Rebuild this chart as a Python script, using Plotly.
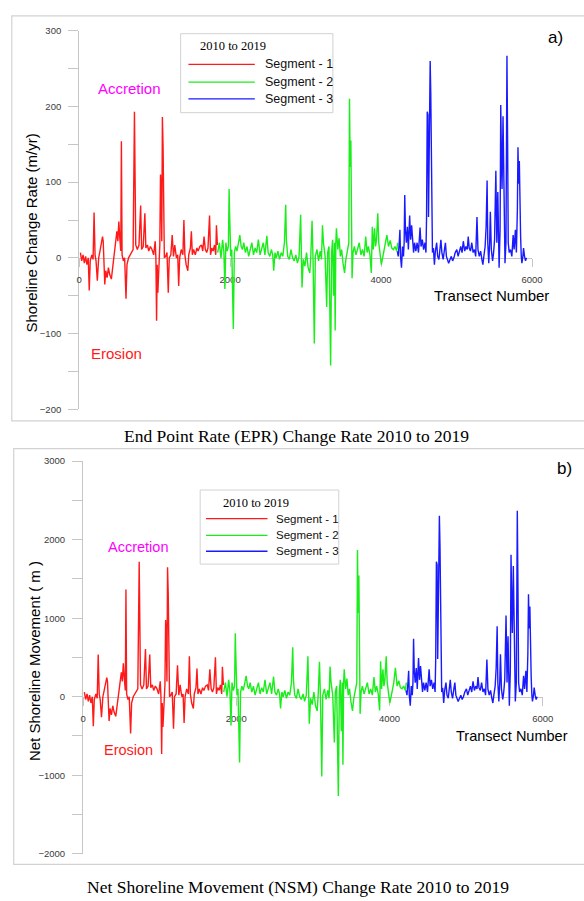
import plotly.graph_objects as go

# ---------------- DATA ----------------
SEG1_T = [17, 34, 52, 69, 86, 103, 121, 134, 147, 168, 185, 198, 211, 224, 241, 259, 276, 293, 310, 319,
          332, 340, 353, 371, 388, 405, 427, 448, 461, 483, 500, 513, 526, 539, 552, 560, 569, 586, 603, 621,
          634, 655, 677, 698, 715, 733, 741, 750, 771, 793, 815, 828, 849, 871, 884, 905, 922, 944, 965, 987,
          1008, 1017, 1026, 1034, 1043, 1056, 1069, 1078, 1086, 1095, 1103, 1112, 1121, 1129, 1146, 1164, 1181, 1194, 1215, 1233,
          1250, 1267, 1289, 1306, 1319, 1332, 1353, 1375, 1388, 1401, 1418, 1440, 1452, 1474, 1487, 1500, 1517, 1539, 1560, 1577,
          1599, 1621, 1638, 1655, 1672, 1690, 1707, 1728, 1741, 1758, 1776, 1793, 1810, 1819, 1832]
EPR_SEG1 = [7, -4, 4, -7, 2, -9, 0, -43, -4, 4, -2, 60, 4, -4, -30, 0, 9, 17, 28, 22,
            -4, -35, -17, -26, -13, -22, -28, -11, 4, 17, 35, 22, 48, 26, 9, 154, 4, -4, 0, -54,
            -9, 0, 4, 7, 11, 193, 135, 17, 11, 17, 69, 11, 15, 59, 13, 17, 9, 15, 11, 4,
            22, 0, -83, -9, -46, 4, 17, 110, 93, 22, 186, 148, 78, 0, 2, 7, -46, 0, 4, 30,
            2, 17, 0, 4, -37, 0, 11, 4, 50, 4, -9, -17, 4, 13, 35, 4, 11, 4, 13, 9,
            15, 17, 9, 28, 11, 7, 13, 56, 4, 13, 9, 17, 4, 43, 17]
NSM_SEG1 = [60, -35, 35, -60, 20, -80, 0, -377, -35, 35, -20, 536, 35, -35, -260, 0, 80, 150, 243, 195,
            -35, -310, -150, -230, -115, -195, -250, -100, 35, 150, 310, 195, 425, 230, 80, 1366, 35, -35, 0, -469,
            -80, 0, 35, 60, 100, 1718, 1190, 150, 100, 150, 608, 100, 135, 536, 115, 150, 80, 135, 100, 35,
            195, 0, -729, -80, -385, 35, 150, 976, 825, 195, 1647, 1310, 690, 0, 20, 60, -406, 0, 35, 400,
            20, 150, 0, 35, -335, 0, 100, 35, 515, 35, -80, -150, 35, 115, 360, 35, 100, 35, 115, 80,
            135, 150, 80, 348, 100, 60, 115, 503, 35, 115, 80, 150, 35, 381, 150]

SEG2_T = [1836, 1858, 1879, 1901, 1918, 1931, 1944, 1961, 1978, 1987, 1992, 2009, 2022, 2043, 2056, 2073, 2091, 2112, 2129, 2147,
          2164, 2181, 2203, 2224, 2246, 2267, 2289, 2310, 2332, 2353, 2375, 2397, 2418, 2440, 2461, 2487, 2504, 2526, 2547, 2565,
          2578, 2595, 2612, 2634, 2655, 2677, 2698, 2720, 2737, 2746, 2763, 2785, 2806, 2828, 2849, 2871, 2892, 2914, 2935, 2944,
          2953, 2970, 2991, 3013, 3034, 3056, 3069, 3086, 3099, 3116, 3129, 3151, 3172, 3194, 3211, 3224, 3237, 3259, 3280, 3293,
          3310, 3332, 3345, 3358, 3371, 3384, 3392, 3401, 3409, 3427, 3444, 3461, 3478, 3496, 3517, 3534, 3552, 3573, 3582, 3591,
          3600, 3608, 3616, 3629, 3646, 3668, 3690, 3711, 3733, 3754, 3776, 3797, 3815, 3832, 3853, 3871, 3884, 3897, 3914, 3927,
          3940, 3957, 3970, 3987, 4004, 4021, 4039, 4056, 4077, 4099, 4121, 4142, 4164, 4185, 4207, 4220]
EPR_SEG2 = [7, 20, 0, 24, 7, -41, 20, 9, 15, 91, 65, 2, 11, -94, 7, 15, 9, 20, 30, 15,
            11, 20, 7, 15, 2, 11, 20, 4, 13, 7, 24, 4, 11, 20, 4, 29, 7, 2, 11, 4,
            -17, 7, 0, 9, -2, 7, 2, 20, 70, 24, 2, -2, 11, 0, -4, 4, -7, 2, 57, 7,
            -39, -2, -11, 7, -13, -20, 2, 49, -2, -113, 2, 11, -4, 9, -2, 43, 20, 2, -65, 7,
            15, -142, 7, 24, -50, 20, -96, 20, 39, 11, 26, 2, 11, -7, -20, -2, 7, 20, 210, 120,
            155, 7, -27, 7, 15, 4, 13, 20, 4, 11, 2, 28, 7, 15, 4, -20, 41, 11, 39, 15,
            24, 59, 20, 7, -9, 0, 11, 20, 30, 15, 23, 13, 11, 15, 9, 20]
NSM_SEG2 = [60, 180, 0, 215, 60, -365, 180, 80, 135, 809, 587, 20, 100, -838, 60, 135, 80, 180, 265, 135,
            100, 180, 60, 135, 20, 100, 180, 35, 115, 60, 215, 35, 100, 180, 35, 255, 60, 20, 100, 35,
            -150, 60, 0, 80, -20, 60, 20, 180, 629, 215, 20, -20, 100, 0, -35, 35, -60, 20, 515, 60,
            -344, -20, -100, 60, -115, -180, 20, 444, -20, -1014, 20, 100, -35, 80, -20, 385, 180, 20, -582, 60,
            135, -1265, 60, 215, -440, 180, -867, 180, 348, 100, 230, 20, 100, -60, -180, -20, 60, 180, 1869, 1065,
            1542, 60, -218, 60, 135, 35, 115, 180, 35, 100, 20, 250, 60, 135, 35, -176, 452, 100, 350, 135,
            215, 515, 180, 60, -80, 0, 100, 180, 369, 135, 205, 115, 100, 135, 80, 180]

SEG3_T = [4215, 4228, 4241, 4250, 4258, 4271, 4284, 4297, 4306, 4314, 4323, 4336, 4349, 4362, 4379, 4392, 4405, 4418, 4431, 4444,
          4461, 4478, 4496, 4517, 4530, 4547, 4564, 4582, 4595, 4603, 4612, 4621, 4629, 4642, 4651, 4659, 4668, 4681, 4694, 4707,
          4720, 4737, 4750, 4767, 4780, 4793, 4806, 4823, 4840, 4853, 4866, 4883, 4896, 4914, 4931, 4948, 4965, 4983, 5004, 5021,
          5039, 5056, 5073, 5090, 5108, 5125, 5142, 5155, 5168, 5185, 5202, 5220, 5237, 5254, 5271, 5284, 5301, 5319, 5336, 5349,
          5362, 5379, 5392, 5405, 5414, 5427, 5439, 5448, 5461, 5478, 5491, 5504, 5521, 5534, 5547, 5556, 5564, 5577, 5586, 5595,
          5603, 5616, 5625, 5633, 5642, 5655, 5668, 5677, 5685, 5698, 5715, 5733, 5750, 5763, 5780, 5793, 5806, 5814, 5823, 5832,
          5840, 5849, 5858, 5866, 5879, 5888, 5901, 5914, 5927]
EPR_SEG3 = [9, 2, 20, 37, 2, -13, 15, 2, 20, 83, 37, 20, 41, 11, 56, 24, 43, 20, 7, 20,
            9, 20, 7, 40, 15, 24, 11, 20, 7, 54, 193, 189, 54, 150, 260, 215, 63, 7, 13, -9,
            9, 20, 2, -2, 11, 24, 7, -2, 11, 20, 2, -4, -7, -2, 2, -4, 0, 7, 11, 2,
            9, 15, 7, 22, 9, 15, 11, 28, 13, 9, 20, 7, 11, 2, 54, 11, 2, 9, -2, -9,
            2, 15, 41, 102, 20, -7, 20, 61, 11, -4, 7, 24, 115, 20, 87, 11, -13, 37, 202, 133,
            91, 187, 89, 2, -7, 20, 267, 150, 20, 7, 11, 2, 30, 11, 37, 7, 63, 146, 98, 128,
            63, 28, 2, -7, 2, 13, 2, -4, 0]
NSM_SEG3 = [80, 20, 180, 330, 20, -115, 135, 20, 180, 737, 330, 180, 365, 100, 494, 215, 390, 180, 60, 180,
            80, 180, 60, 348, 135, 215, 100, 180, 60, 480, 1718, 1680, 480, 1330, 2305, 1910, 560, 60, 115, -80,
            80, 180, 20, -20, 100, 215, 60, -20, 100, 180, 20, -35, -60, -20, 20, -35, 0, 60, 100, 20,
            80, 135, 60, 195, 80, 135, 100, 250, 115, 80, 180, 60, 100, 20, 473, 100, 20, 80, -20, -80,
            20, 135, 365, 897, 180, -60, 180, 540, 100, -35, 60, 215, 1035, 180, 770, 100, -115, 330, 1807, 1180,
            810, 1664, 790, 20, -60, 180, 2368, 1330, 180, 60, 100, 20, 265, 100, 330, 60, 560, 1303, 870, 1148,
            560, 250, 20, -60, 20, 115, 20, -35, 0]

SEGMENT_NAMES = ["Segment - 1", "Segment - 2", "Segment - 3"]
SEGMENT_COLORS = ["#ff1a1a", "#1aee1a", "#1a1aff"]
X_TICKS = [0, 2000, 4000, 6000]
LEGEND_TITLE = "2010 to 2019"

# ---------------- FIGURE ----------------
W, H = 584, 901
def px(x):
    return x / W
def py(y):
    return 1 - y / H

SANS = "Liberation Sans, Arial, sans-serif"
SERIF = "Liberation Serif, Times New Roman, serif"
AXC = "#c6c6c6"
TXC = "#3a3a3a"

fig = go.Figure()
segs_t = [SEG1_T, SEG2_T, SEG3_T]
segs_epr = [EPR_SEG1, EPR_SEG2, EPR_SEG3]
segs_nsm = [NSM_SEG1, NSM_SEG2, NSM_SEG3]
for i in range(3):
    fig.add_trace(go.Scatter(x=segs_t[i], y=segs_epr[i], mode="lines", name=SEGMENT_NAMES[i],
                             line=dict(color=SEGMENT_COLORS[i], width=1.4), showlegend=False,
                             xaxis="x", yaxis="y", hoverinfo="skip"))
for i in range(3):
    fig.add_trace(go.Scatter(x=segs_t[i], y=segs_nsm[i], mode="lines", name=SEGMENT_NAMES[i],
                             line=dict(color=SEGMENT_COLORS[i], width=1.4), showlegend=False,
                             xaxis="x2", yaxis="y2", hoverinfo="skip"))

def xaxis_cfg(x0, x1, zero_y):
    return dict(domain=[px(x0), px(x1)], range=[0, 6000], anchor="free", position=py(zero_y),
                showline=True, linecolor=AXC, linewidth=1, ticks="outside", ticklen=8, tickcolor=AXC,
                tickvals=X_TICKS, tickfont=dict(family=SANS, size=9.5, color=TXC),
                showgrid=False, zeroline=False, layer="below traces", ticklabelstandoff=5)

def yaxis_cfg(ytop, ybot, rng, dtick, xa):
    return dict(domain=[py(ybot), py(ytop)], range=rng, anchor=xa,
                showline=True, linecolor=AXC, linewidth=1, ticks="outside", ticklen=10, tickcolor=AXC,
                dtick=dtick, tick0=0, tickfont=dict(family=SANS, size=9.5, color=TXC),
                minor=dict(ticks="outside", ticklen=10, tickcolor=AXC, dtick=dtick / 2, showgrid=False),
                showgrid=False, zeroline=False, layer="below traces", ticklabelstandoff=5)

fig.update_layout(
    width=W, height=H, margin=dict(l=0, r=0, t=0, b=0),
    paper_bgcolor="white", plot_bgcolor="rgba(0,0,0,0)", showlegend=False,
    xaxis=xaxis_cfg(78, 542, 255),
    yaxis=yaxis_cfg(25, 408.3, [-200, 300], 100, "x"),
    xaxis2=xaxis_cfg(82, 553, 699.3),
    yaxis2=yaxis_cfg(460.7, 858.3, [-2000, 3000], 1000, "x2"),
)

shapes = []
annots = []
BOX = "#d2d2d2"
# panel frames
shapes.append(dict(type="rect", xref="paper", yref="paper", x0=px(9), x1=px(600), y0=py(420), y1=py(10),
                   line=dict(color=BOX, width=1.2), fillcolor="rgba(0,0,0,0)"))
shapes.append(dict(type="rect", xref="paper", yref="paper", x0=px(11), x1=px(600), y0=py(869), y1=py(448),
                   line=dict(color=BOX, width=1.2), fillcolor="rgba(0,0,0,0)"))

def text(x, y, s, size, color="black", family=SANS, xanchor="center", angle=0):
    annots.append(dict(xref="paper", yref="paper", x=px(x), y=py(y), text=s, showarrow=False,
                       xanchor=xanchor, yanchor="middle", textangle=angle,
                       font=dict(family=family, size=size, color=color)))

def legend(x0, y0, x1, y1, title_x, title_y, lx0, lx1, tx, ys, fs):
    shapes.append(dict(type="rect", xref="paper", yref="paper", x0=px(x0), x1=px(x1), y0=py(y1), y1=py(y0),
                       line=dict(color=BOX, width=1), fillcolor="white"))
    text(title_x, title_y, LEGEND_TITLE, 12.5, family=SERIF, xanchor="left")
    for i in range(3):
        shapes.append(dict(type="line", xref="paper", yref="paper", x0=px(lx0), x1=px(lx1),
                           y0=py(ys[i]), y1=py(ys[i]), line=dict(color=SEGMENT_COLORS[i], width=1.3)))
        text(tx, ys[i], SEGMENT_NAMES[i], fs, color="#111", xanchor="left")

# top panel texts
text(29, 230, "Shoreline Change Rate (m/yr)", 15, angle=-90)
text(130, 84, "Accretion", 15, color="#ff00ff")
text(116, 352, "Erosion", 15, color="#ff1a1a")
text(501, 293, "Transect Number", 15)
text(566, 32, "a)", 17)
legend(182, 28, 338, 108, 200, 41, 190, 258, 266, [59, 77, 94], 12.5)
text(301, 435, "End Point Rate (EPR) Change Rate 2010 to 2019", 17.5, family=SERIF)

# bottom panel texts
text(33, 663, "Net Shoreline Movement ( m )", 15, angle=-90)
text(138, 548, "Accretion", 14.5, color="#ff00ff")
text(129, 753, "Erosion", 14.5, color="#ff1a1a")
text(522, 739, "Transect Number", 14.5)
text(575, 468, "b)", 17)
legend(202, 490, 344, 565, 223, 503, 208, 271, 278, [519, 536, 552], 11.5)
text(302, 892, "Net Shoreline Movement (NSM) Change Rate 2010 to 2019", 17.5, family=SERIF)

fig.update_layout(shapes=shapes, annotations=annots)
fig.write_html("out.html", config={"displayModeBar": False, "staticPlot": True},
               post_script="document.body.style.margin='0';document.body.style.padding='0';"
                           "document.documentElement.style.overflow='hidden';document.body.style.overflow='hidden';")
